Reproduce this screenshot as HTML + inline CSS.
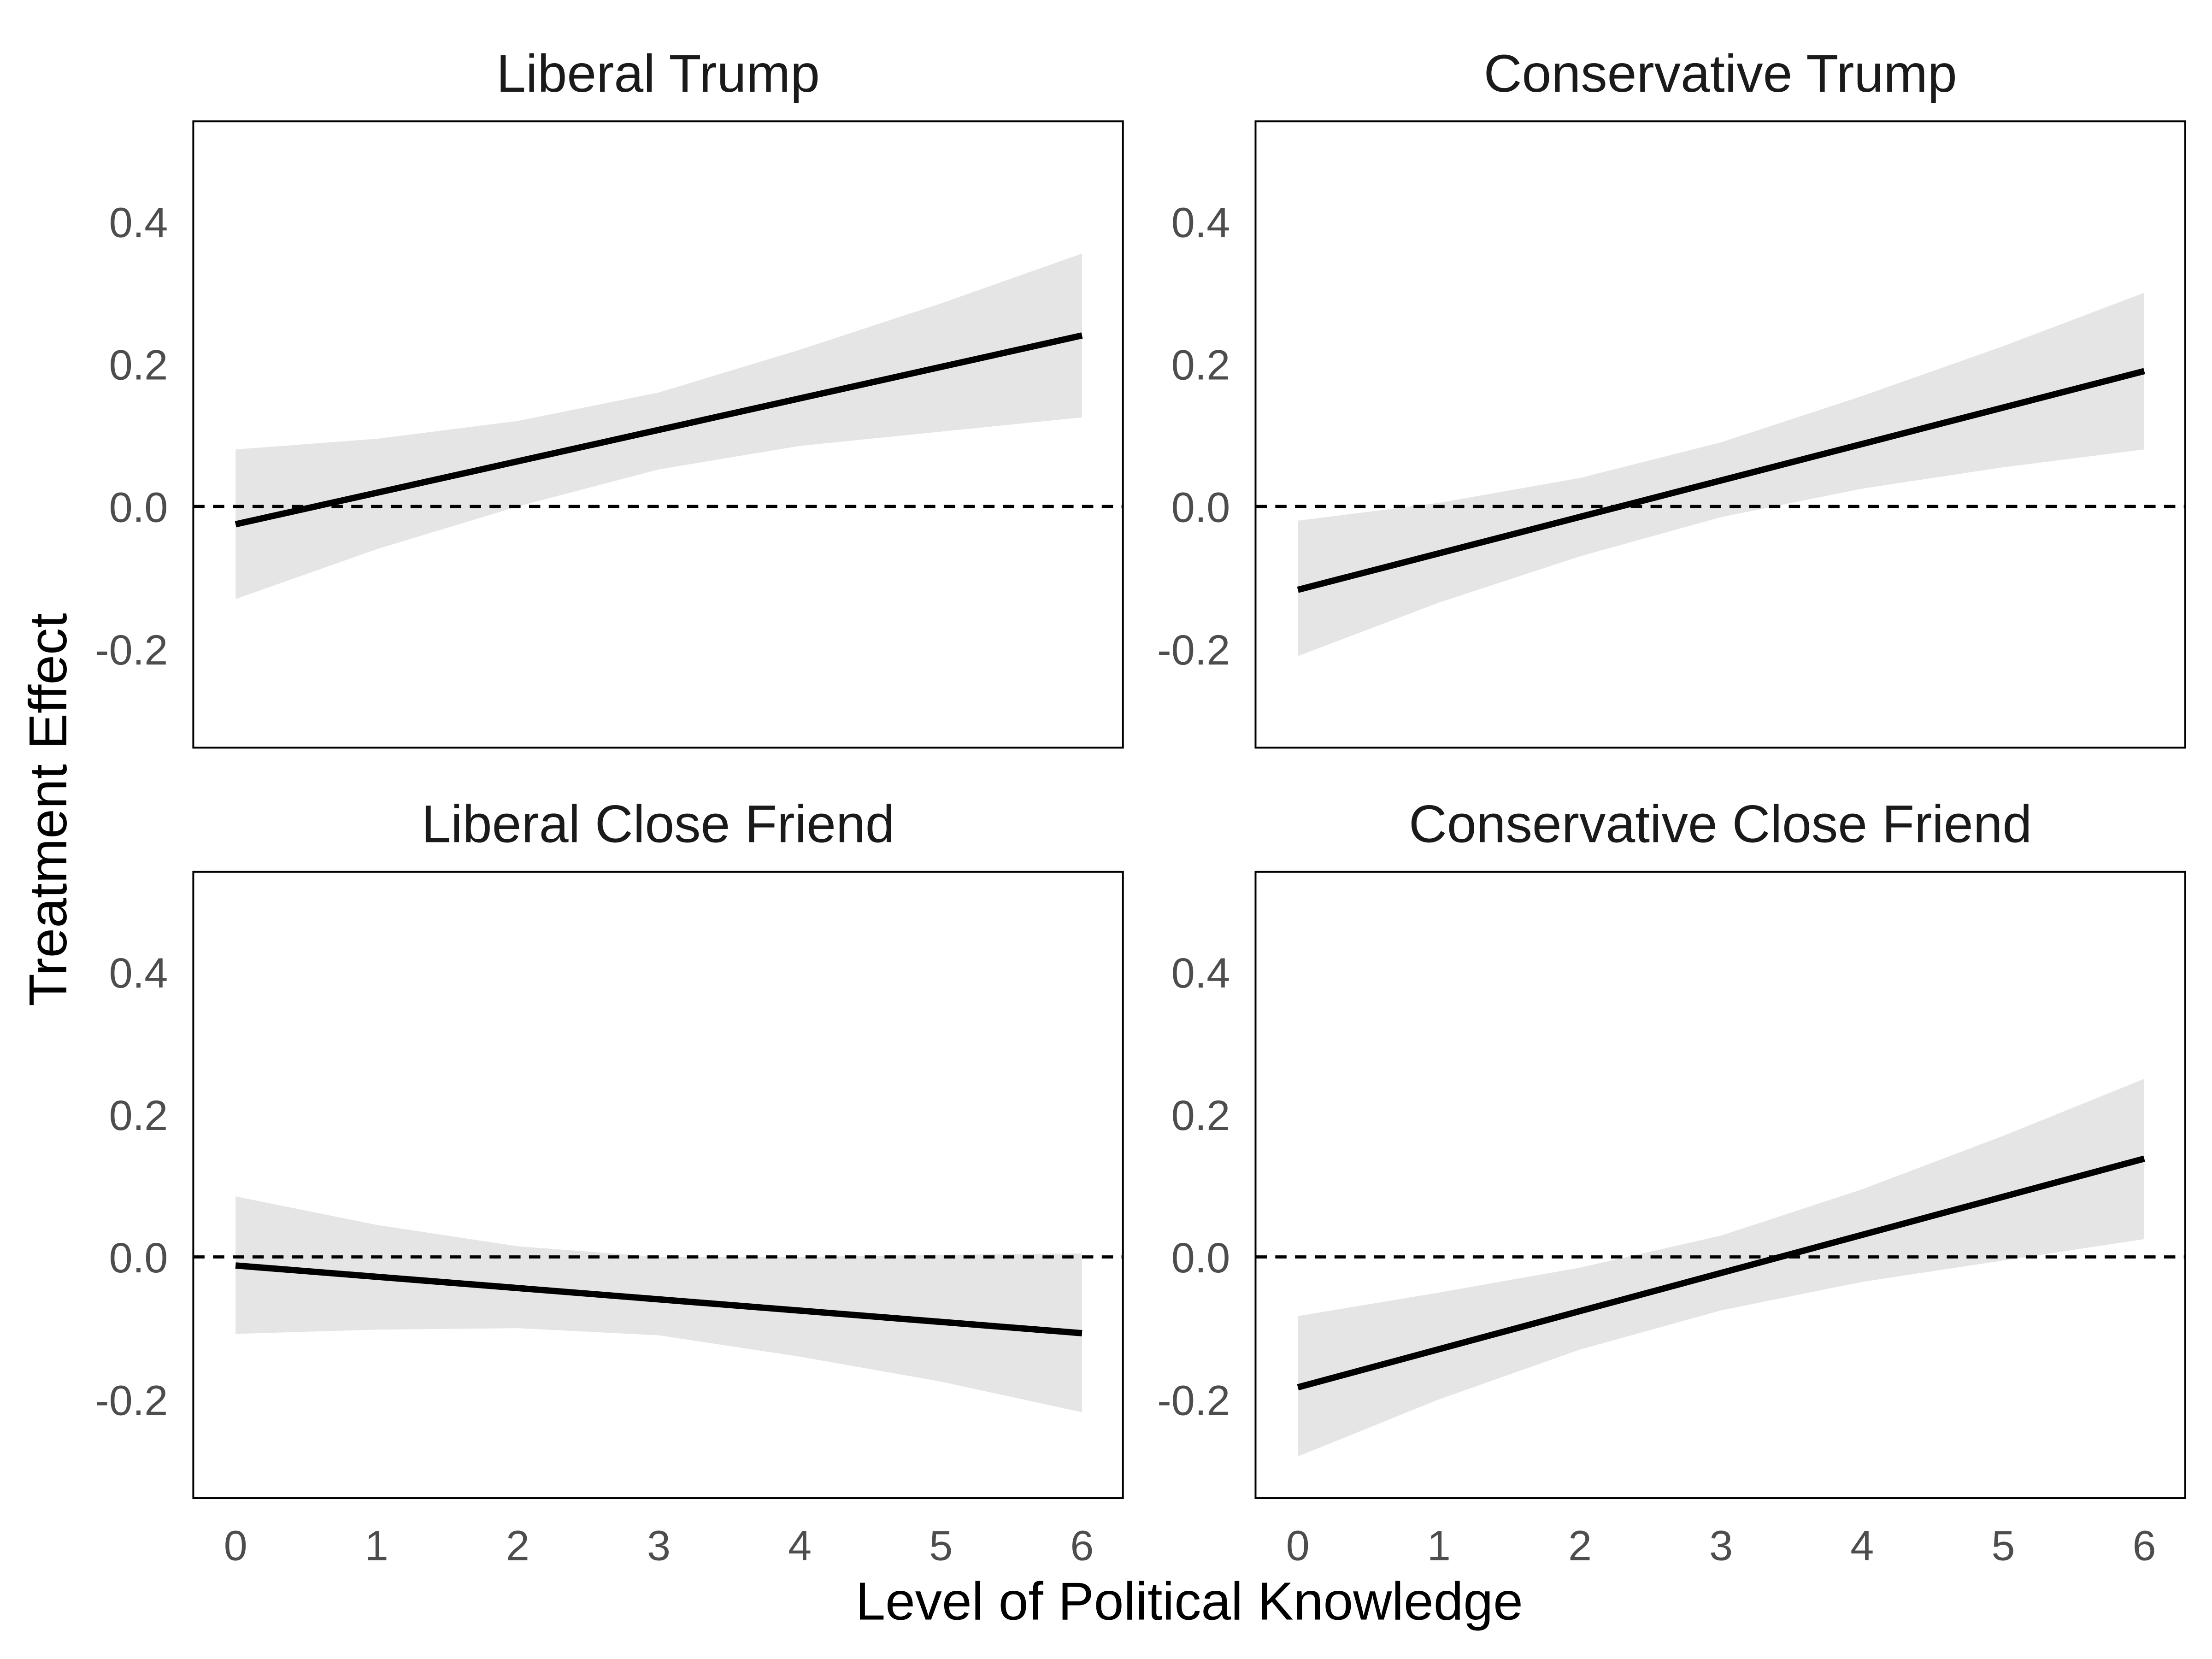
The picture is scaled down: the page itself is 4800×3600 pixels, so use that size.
<!DOCTYPE html>
<html><head><meta charset="utf-8"><style>html,body{margin:0;padding:0;background:#fff}svg{display:block}</style></head>
<body>
<svg id="c" width="4800" height="3600" viewBox="0 0 1568 1176" xmlns="http://www.w3.org/2000/svg" font-family="Liberation Sans, sans-serif">
<rect width="1568" height="1176" fill="#fff"/>
</svg>
<script>
const xVals=[0,1,2,3,4,5,6];
const yTicks=[-0.2,0,0.2,0.4];
const yTickLabels=["-0.2","0.0","0.2","0.4"];
const panelTitles=["Liberal Trump","Conservative Trump","Liberal Close Friend","Conservative Close Friend"];
const lineStart=[-0.025,-0.117,-0.012,-0.183];
const lineEnd=[0.24,0.19,-0.107,0.138];
const upperLT=[0.08,0.095,0.12,0.16,0.22,0.285,0.355];
const lowerLT=[-0.13,-0.06,0.0,0.052,0.085,0.105,0.125];
const upperCT=[-0.02,0.005,0.04,0.09,0.155,0.225,0.30];
const lowerCT=[-0.21,-0.135,-0.07,-0.015,0.025,0.055,0.08];
const upperLF=[0.085,0.045,0.015,0.0,0.0,0.003,0.005];
const lowerLF=[-0.108,-0.102,-0.1,-0.11,-0.14,-0.175,-0.218];
const upperCF=[-0.083,-0.05,-0.015,0.03,0.095,0.17,0.25];
const lowerCF=[-0.28,-0.2,-0.13,-0.075,-0.035,-0.005,0.025];
const uppers=[upperLT,upperCT,upperLF,upperCF];
const lowers=[lowerLT,lowerCT,lowerLF,lowerCF];
const NS="http://www.w3.org/2000/svg";
const svg=document.getElementById('c');
function mk(t,a,p){const e=document.createElementNS(NS,t);for(const k in a)e.setAttribute(k,a[k]);(p||svg).appendChild(e);return e;}
const px=[137,890],py=[86,618],W=659,H=444;
for(let i=0;i<4;i++){
  const x0=px[i%2],y0=py[Math.floor(i/2)];
  const zeroY=y0+273;
  const sx=v=>x0+30+v*100, sy=v=>zeroY-v*505;
  const g=mk('g',{});
  
  
  let d='';
  xVals.forEach((v,j)=>{d+=(j?'L':'M')+sx(v)+','+sy(uppers[i][j]);});
  for(let j=xVals.length-1;j>=0;j--)d+='L'+sx(xVals[j])+','+sy(lowers[i][j]);
  const band=mk('path',{d:d+'Z',fill:'#e5e5e5'},g);
  
  
  const z=mk('line',{x1:x0,x2:x0+W,y1:sy(0),y2:sy(0),stroke:'#000','stroke-width':2.2,'stroke-dasharray':'8,6'},g);
  
  
  const ln=mk('line',{x1:sx(0),x2:sx(6),y1:sy(lineStart[i]),y2:sy(lineEnd[i]),stroke:'#000','stroke-width':4.5},g);
  
  
  const fr=mk('rect',{x:x0,y:y0,width:W,height:H,fill:'none',stroke:'#000','stroke-width':1.3},g);
  
  
  const t=mk('text',{x:x0+W/2,y:y0-21,'text-anchor':'middle','font-size':37.5,fill:'#1a1a1a'},g);
  t.textContent=panelTitles[i];
  
  
  yTicks.forEach((v,j)=>{
    const tl=mk('text',{x:x0-18,y:sy(v)+11,'text-anchor':'end','font-size':30,fill:'#4d4d4d'},g);
    tl.textContent=yTickLabels[j];
    
    
  });
  if(i>=2){xVals.forEach(v=>{
    const xl=mk('text',{x:sx(v),y:y0+H+44,'text-anchor':'middle','font-size':30,fill:'#4d4d4d'},g);
    xl.textContent=String(v);
    
    
  });}
}
const xt=mk('text',{x:843,y:1148,'text-anchor':'middle','font-size':38,fill:'#000'});
xt.textContent='Level of Political Knowledge';


const yt=mk('text',{x:0,y:0,'text-anchor':'middle','font-size':38,fill:'#000',transform:'translate(47,574) rotate(-90)'});
yt.textContent='Treatment Effect';


</script>
</body></html>
